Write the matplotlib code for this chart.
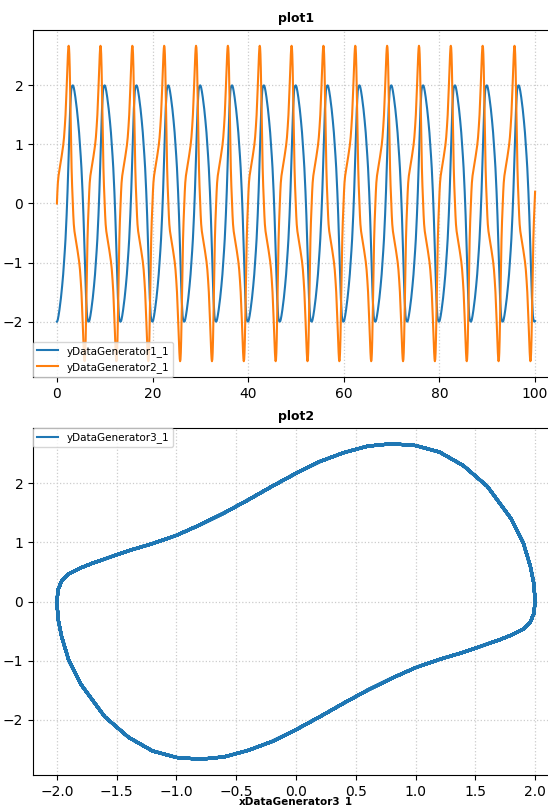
import numpy as np
import matplotlib
matplotlib.use("Agg")
import matplotlib.pyplot as plt

# one half of the limit cycle (x going -2 -> 2, y >= 0)
t_half = [0.00, 0.10, 0.20, 0.34, 0.53, 0.69, 0.84, 0.97, 1.09, 1.31, 1.49, 1.65, 1.80, 1.92,
          2.03, 2.13, 2.22, 2.30, 2.38, 2.45, 2.53, 2.60, 2.68, 2.77, 2.89, 2.97, 3.07, 3.18]
x_half = [-2.00, -1.99, -1.96, -1.90, -1.80, -1.70, -1.60, -1.50, -1.40, -1.20, -1.00, -0.80, -0.60, -0.40,
          -0.20, 0.00, 0.20, 0.40, 0.60, 0.80, 1.00, 1.20, 1.40, 1.60, 1.80, 1.90, 1.96, 1.99]
y_half = [0.00, 0.20, 0.35, 0.47, 0.57, 0.65, 0.72, 0.79, 0.86, 0.98, 1.12, 1.30, 1.50, 1.72,
          1.95, 2.17, 2.37, 2.52, 2.63, 2.67, 2.64, 2.53, 2.30, 1.95, 1.40, 1.00, 0.60, 0.30]
half_period = 3.33
n_cycles = 16
t_max = 100.0

labels1 = ["yDataGenerator1_1", "yDataGenerator2_1"]
label2 = "yDataGenerator3_1"
xlabel2 = "xDataGenerator3_1"

# build the repeating trajectory from the half-cycle (lower half is the mirror)
t_cyc = np.concatenate([t_half, np.array(t_half) + half_period])
x_cyc = np.concatenate([x_half, -np.array(x_half)])
y_cyc = np.concatenate([y_half, -np.array(y_half)])
period = 2 * half_period

t = np.concatenate([t_cyc + k * period for k in range(n_cycles)])
x = np.tile(x_cyc, n_cycles)
y = np.tile(y_cyc, n_cycles)
keep = t <= t_max
t, x, y = t[keep], x[keep], y[keep]

W, H = 548, 805
fig = plt.figure(figsize=(W / 100, H / 100), dpi=100)
left = 33 / W
width = (559 - 33) / W
ax1 = fig.add_axes([left, 1 - 377 / H, width, (377 - 30) / H])
ax2 = fig.add_axes([left, 1 - 775 / H, width, (775 - 428) / H])

grid_kw = dict(color="#cccccc", linestyle=":", linewidth=0.9)

ax1.plot(t, x, color="#1f77b4", lw=1.5, label=labels1[0])
ax1.plot(t, y, color="#ff7f0e", lw=1.5, label=labels1[1])
ax1.set_title("plot1", fontweight="bold", fontsize=9)
ax1.grid(True, **grid_kw)
ax1.set_axisbelow(True)
ax1.legend(loc="lower left", borderaxespad=0, fontsize=7.5)

ax2.plot(x, y, color="#1f77b4", lw=2.2, label=label2)
ax2.set_title("plot2", fontweight="bold", fontsize=9)
ax2.set_xlabel(xlabel2, fontweight="bold", fontsize=7.5, labelpad=-1.5)
ax2.grid(True, **grid_kw)
ax2.set_axisbelow(True)
leg = ax2.legend(loc="upper left", borderaxespad=0, fontsize=7.5)
for ln in leg.get_lines():
    ln.set_linewidth(1.5)
ax2.set_xticks([-2.0, -1.5, -1.0, -0.5, 0.0, 0.5, 1.0, 1.5, 2.0])

for ax in (ax1, ax2):
    ax.tick_params(labelsize=10)

fig.savefig("out.png", dpi=100)
